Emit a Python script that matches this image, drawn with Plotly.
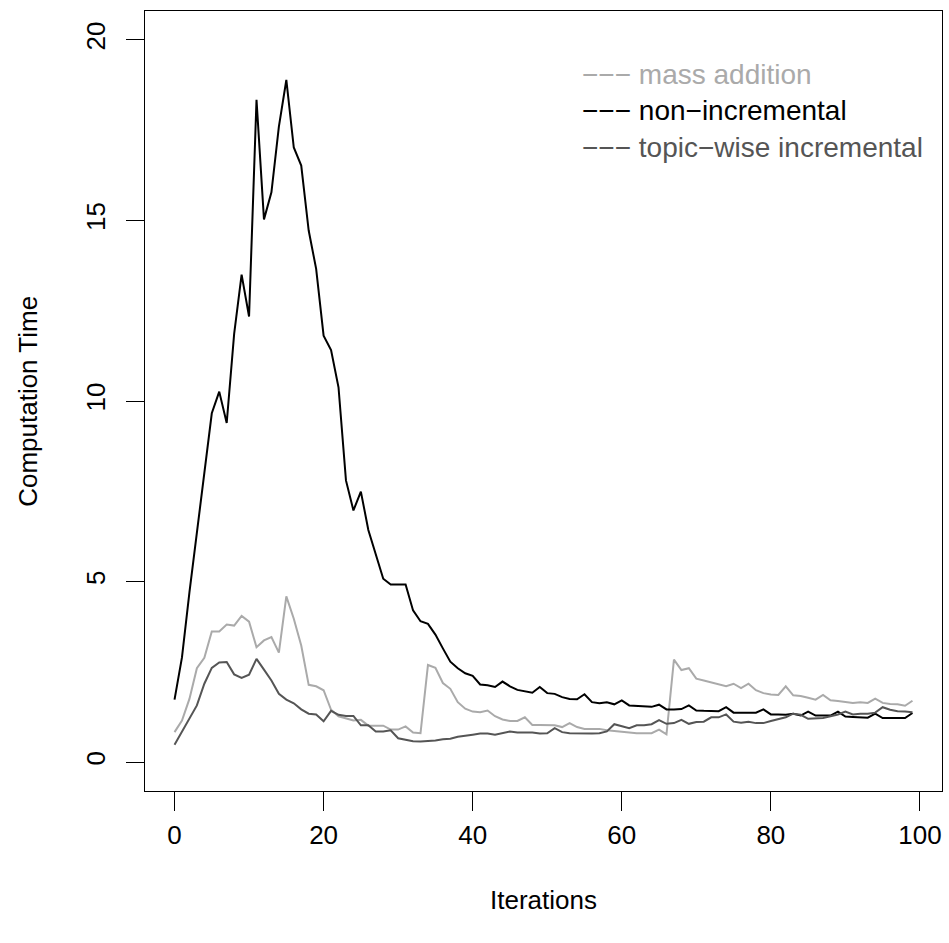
import plotly.graph_objects as go

iterations = list(range(100))

non_incremental = [
    1.73, 2.9, 4.7, 6.3, 7.9, 9.66, 10.26, 9.39, 11.86, 13.5,
    12.34, 18.34, 15.03, 15.78, 17.6, 18.89, 17.02, 16.52, 14.72, 13.66,
    11.81, 11.41, 10.38, 7.8, 6.97, 7.49, 6.43, 5.77, 5.08, 4.92,
    4.91, 4.92, 4.2, 3.9, 3.83, 3.53, 3.15, 2.78, 2.6, 2.46,
    2.39, 2.15, 2.13, 2.08, 2.23, 2.1, 2.0, 1.96, 1.92, 2.08,
    1.91, 1.89, 1.8, 1.75, 1.74, 1.88, 1.66, 1.63, 1.66, 1.6,
    1.71, 1.57, 1.56, 1.55, 1.53, 1.59, 1.46, 1.46, 1.47, 1.57,
    1.43, 1.42, 1.41, 1.41, 1.52, 1.37, 1.37, 1.37, 1.37, 1.46,
    1.32, 1.32, 1.31, 1.34, 1.29, 1.4, 1.29, 1.29, 1.29, 1.4,
    1.26, 1.25, 1.24, 1.23, 1.34, 1.22, 1.22, 1.22, 1.22, 1.36,
]

mass_addition = [
    0.83, 1.15, 1.75, 2.6, 2.89, 3.62, 3.62, 3.81, 3.78, 4.05,
    3.89, 3.18, 3.37, 3.46, 3.03, 4.59, 3.97, 3.23, 2.14, 2.1,
    1.99, 1.45, 1.27, 1.2, 1.15, 1.17, 1.01, 1.01, 1.01, 0.9,
    0.9, 0.99, 0.82, 0.8, 2.69, 2.61, 2.19, 2.03, 1.66, 1.48,
    1.4, 1.38, 1.43, 1.27, 1.18, 1.14, 1.14, 1.24, 1.03, 1.03,
    1.03, 1.02, 0.97, 1.08, 0.97, 0.92, 0.92, 0.92, 0.88, 0.86,
    0.85, 0.82, 0.8, 0.8, 0.8, 0.9, 0.77, 2.84, 2.55, 2.6,
    2.31, 2.26, 2.2, 2.14, 2.1, 2.17, 2.05, 2.17, 1.99, 1.91,
    1.87, 1.86, 2.1, 1.85, 1.83, 1.78, 1.73, 1.86, 1.71, 1.69,
    1.66, 1.64, 1.66, 1.64, 1.76, 1.64, 1.61, 1.6, 1.56, 1.7,
]

topic_wise = [
    0.48, 0.83, 1.2, 1.57, 2.17, 2.61, 2.76, 2.77, 2.43, 2.33,
    2.42, 2.86, 2.56, 2.26, 1.89, 1.73, 1.63, 1.46, 1.34, 1.32,
    1.13, 1.42, 1.31, 1.28, 1.28, 1.02, 1.02, 0.85, 0.85, 0.88,
    0.66, 0.62, 0.58, 0.57, 0.58, 0.6, 0.63, 0.65, 0.7, 0.74,
    0.76, 0.79, 0.79, 0.76, 0.8, 0.85, 0.82, 0.82, 0.82, 0.79,
    0.8, 0.94, 0.83, 0.8, 0.79, 0.8, 0.79, 0.8, 0.85, 1.05,
    0.99, 0.94, 1.02, 1.02, 1.05, 1.16, 1.06, 1.08, 1.17, 1.06,
    1.11, 1.12, 1.24, 1.24, 1.32, 1.12, 1.09, 1.12, 1.08, 1.08,
    1.14, 1.2, 1.24, 1.34, 1.31, 1.2, 1.2, 1.22, 1.27, 1.32,
    1.4, 1.32, 1.34, 1.34, 1.37, 1.52, 1.45, 1.41, 1.4, 1.38,
]

series_names = ["mass addition", "non\u2212incremental", "topic\u2212wise incremental"]
series_colors = ["#aaaaaa", "#000000", "#555555"]
x_ticks = [0, 20, 40, 60, 80, 100]
y_ticks = [0, 5, 10, 15, 20]

FONT = "Liberation Sans, Arial, Helvetica, sans-serif"
FS = 26

fig = go.Figure()
for name, ys, col in zip(series_names, [mass_addition, non_incremental, topic_wise], series_colors):
    fig.add_trace(go.Scatter(x=iterations, y=ys, mode="lines", name=name,
                             line=dict(color=col, width=2), showlegend=False))

# legend as colored text (R legend with text.col and "---" prefix)
legend_y = [0.918, 0.872, 0.825]
for name, col, ly in zip(series_names, series_colors, legend_y):
    fig.add_annotation(x=0.5458, y=ly, xref="paper", yref="paper",
                       text="\u2212\u2212\u2212 " + name, showarrow=False,
                       xanchor="left", yanchor="middle",
                       font=dict(family=FONT, size=FS + 2, color=col))

fig.add_annotation(x=0.5, xref="paper", y=-0.14, yref="paper", text="Iterations",
                   showarrow=False, xanchor="center", yanchor="middle",
                   font=dict(family=FONT, size=FS, color="black"))
fig.add_annotation(x=-0.147, xref="paper", y=0.5, yref="paper", text="Computation Time",
                   showarrow=False, textangle=-90, xanchor="center", yanchor="middle",
                   font=dict(family=FONT, size=FS, color="black"))

fig.update_layout(
    width=949, height=943,
    margin=dict(l=145, r=7, t=11, b=152),
    paper_bgcolor="white", plot_bgcolor="white",
    font=dict(family=FONT, size=FS, color="black"),
    xaxis=dict(range=[-3.96, 102.96], tickvals=x_ticks, ticks="outside", ticklen=19,
               tickwidth=1.3, tickcolor="black", showline=True, linecolor="black",
               linewidth=1.3, mirror=True, showgrid=False, zeroline=False,
               ticklabelstandoff=2, tickfont=dict(size=FS)),
    yaxis=dict(range=[-0.8, 20.8], tickvals=y_ticks, ticks="outside", ticklen=18,
               tickwidth=1.3, tickcolor="black", showline=True, linecolor="black",
               linewidth=1.3, mirror=True, showgrid=False, zeroline=False,
               tickangle=-90, ticklabelstandoff=10, tickfont=dict(size=FS)),
)

fig.write_html("out.html")
